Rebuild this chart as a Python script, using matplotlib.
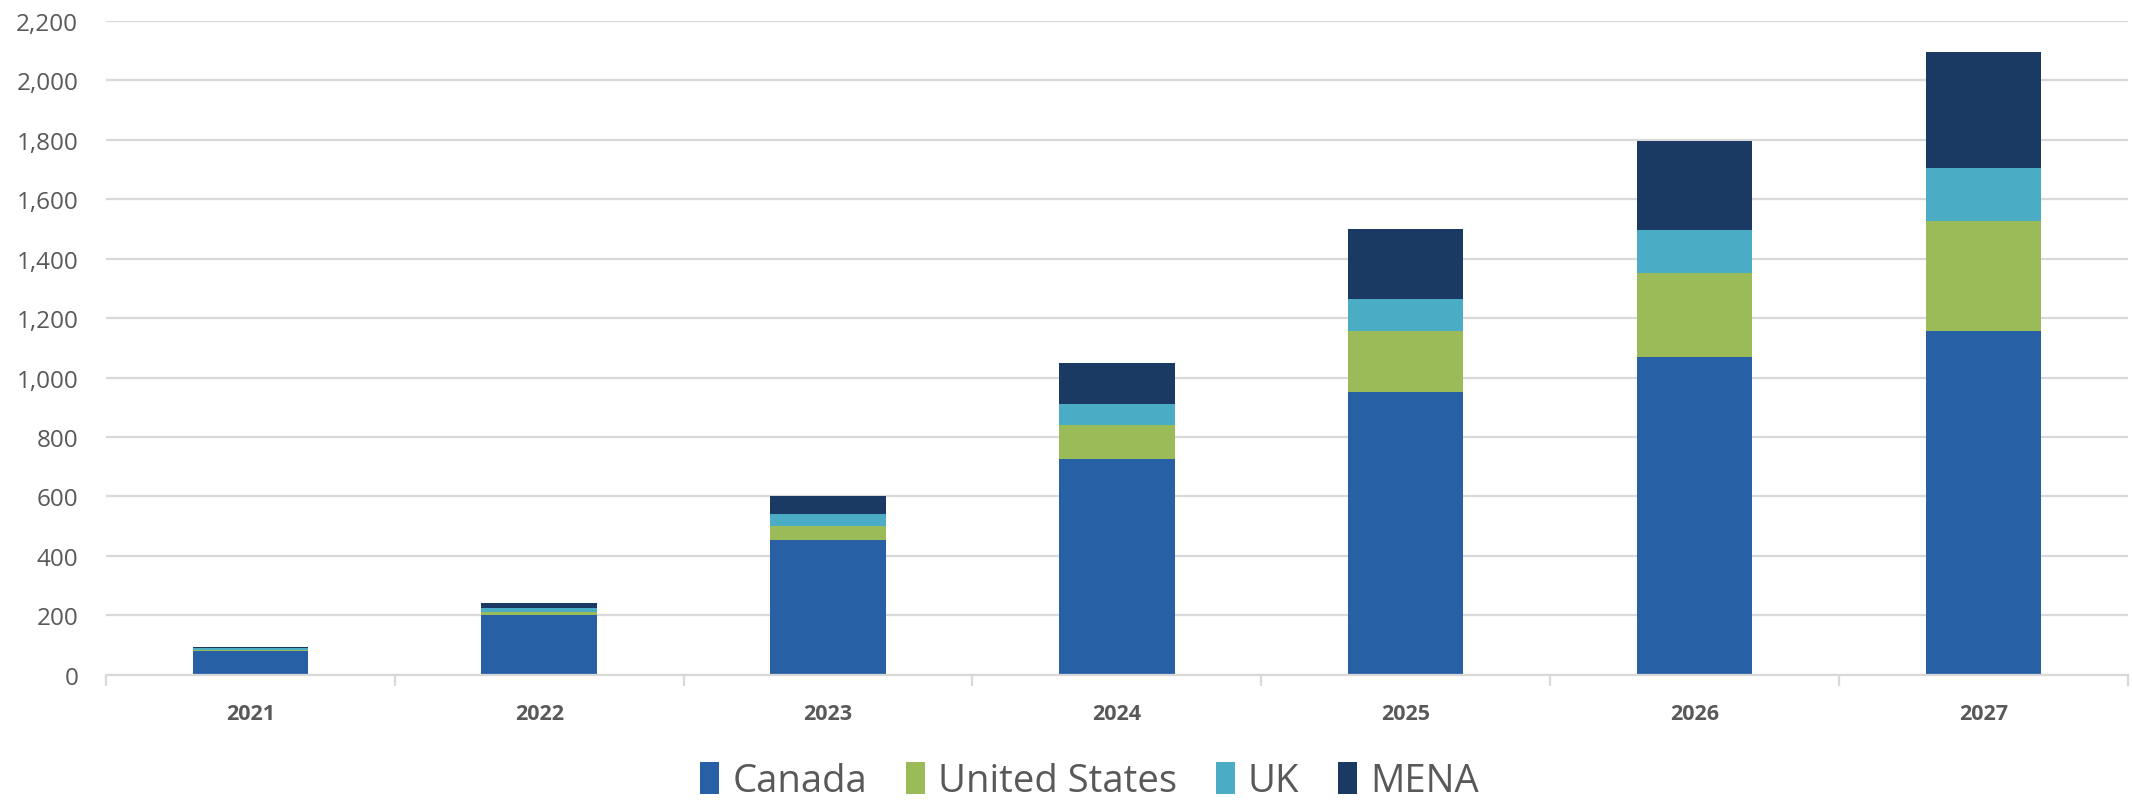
import matplotlib
matplotlib.use("Agg")
import matplotlib.pyplot as plt
from matplotlib.ticker import FuncFormatter, FixedLocator
import numpy as np

years = ["2021", "2022", "2023", "2024", "2025", "2026", "2027"]
canada = [80, 200, 452, 725, 950, 1070, 1155]
united_states = [2, 10, 48, 115, 205, 280, 370]
uk = [7, 15, 40, 70, 110, 145, 180]
mena = [6, 15, 60, 140, 235, 300, 390]

series = [("Canada", canada, "#2860A5"),
          ("United States", united_states, "#9BBB59"),
          ("UK", uk, "#4BACC6"),
          ("MENA", mena, "#1A3A63")]

fig = plt.figure(figsize=(21.32, 8.03), dpi=100)
ax = fig.add_axes([0.0497, 0.1584, 0.9483, 0.8145])

x = np.arange(len(years))
bottom = np.zeros(len(years))
for name, vals, col in series:
    ax.bar(x, vals, width=0.4, bottom=bottom, color=col, label=name,
           edgecolor="none", zorder=3)
    bottom += np.array(vals)

ax.set_xlim(-0.5, len(years) - 0.5)
ax.set_ylim(0, 2200)
ax.set_yticks(np.arange(0, 2201, 200))
ax.yaxis.set_major_formatter(FuncFormatter(lambda v, p: f"{int(v):,}"))
ax.grid(axis="y", color="#D9D9D9", linewidth=1.6, zorder=0)
ax.set_axisbelow(True)

for s in ["top", "right", "left"]:
    ax.spines[s].set_visible(False)
ax.spines["bottom"].set_color("#D9D9D9")
ax.spines["bottom"].set_linewidth(1.6)
ax.spines["bottom"].set_zorder(4)

ax.tick_params(axis="y", length=0, pad=20, labelsize=17.5, labelcolor="#595959")
for lab in ax.get_yticklabels():
    lab.set_fontfamily("Open Sans")

ax.set_xticks(x)
ax.set_xticklabels(years, fontsize=15.5, fontweight="bold", color="#595959",
                   fontfamily="Open Sans")
ax.tick_params(axis="x", which="major", length=0, pad=20)
ax.xaxis.set_minor_locator(FixedLocator(np.arange(-0.5, len(years), 1.0)))
ax.tick_params(axis="x", which="minor", length=8, width=1.6, color="#D9D9D9",
               direction="out")

leg = ax.legend(loc="center", bbox_to_anchor=(0.4865, -0.163), ncol=4, frameon=False,
                prop={"family": "Open Sans", "size": 27.5},
                handlelength=0.5, handleheight=0.9, handletextpad=0.35,
                columnspacing=1.0, labelcolor="#595959")

fig.savefig("out.png", dpi=100, facecolor="white")
